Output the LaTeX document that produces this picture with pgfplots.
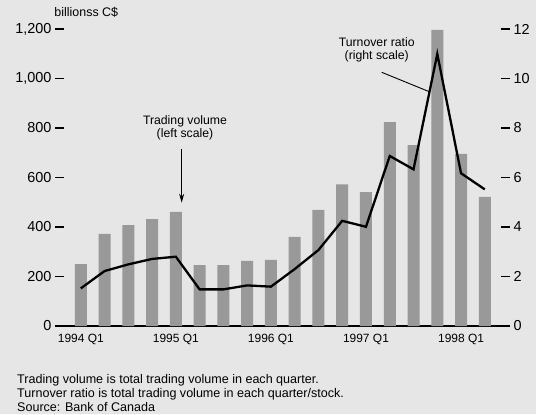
\documentclass[border=0pt]{standalone}
\usepackage{fontspec}
\setmainfont{Liberation Sans}
\usepackage{pgfplots}
\pgfplotsset{compat=1.18}
\usetikzlibrary{arrows.meta}
\definecolor{fondo}{HTML}{E6E6E6}
\definecolor{barra}{HTML}{999999}

\pgfplotsset{
  comun/.style={
    at={(55bp,88bp)}, anchor=south west,
    scale only axis, width=455bp, height=297bp,
    xmin=-1.085, xmax=18.06,
    major tick length=9bp,
    tick align=inside,
    ytick style={line width=1.3bp, black},
    y axis line style={draw=none},
    /pgf/number format/assume math mode=true,
    /pgf/number format/1000 sep={,},
    yticklabel style={font=\fontsize{14.5}{16}\selectfont},
  }
}

\begin{document}
\begin{tikzpicture}[x=1bp,y=1bp]
\fill[fondo] (0,0) rectangle (536,414);

% volumen (barras, escala izquierda)
\begin{axis}[
  comun,
  ymin=0, ymax=1200,
  axis x line*=bottom, axis y line*=left,
  x axis line style={line width=1.6bp, black},
  ytick={0,200,400,600,800,1000,1200},
  xtick={0,4,8,12,16},
  xticklabels={1994 Q1,1995 Q1,1996 Q1,1997 Q1,1998 Q1},
  xtick style={draw=none},
  xticklabel style={font=\fontsize{12}{14}\selectfont, yshift=-4.5bp},
]
\addplot[ybar, bar width=12bp, fill=barra, draw=none] coordinates {
  (0,250) (1,372) (2,408) (3,432) (4,461) (5,246) (6,246) (7,263) (8,267)
  (9,360) (10,469) (11,572) (12,541) (13,824) (14,731) (15,1196) (16,695) (17,522)
};
\draw[line width=1.2bp, -{Stealth[length=9bp, width=5bp]}]
  (axis cs:4.245,715) -- (axis cs:4.245,498);
\end{axis}

% ratio de rotacion (linea, escala derecha)
\begin{axis}[
  comun,
  ymin=0, ymax=12,
  axis x line=none, axis y line*=right,
  ytick={0,2,4,6,8,10,12},
]
\addplot[black, line width=2.3bp, line join=miter, mark=none] coordinates {
  (0,1.52) (1,2.22) (2,2.49) (3,2.71) (4,2.80) (5,1.48) (6,1.48) (7,1.64) (8,1.59)
  (9,2.30) (10,3.07) (11,4.25) (12,4.01) (13,6.87) (14,6.33) (15,10.99) (16,6.17) (17,5.52)
};
\end{axis}

% textos
\node[anchor=base, inner sep=0pt, font=\fontsize{12.5}{14}\selectfont] at (86.3,397.3) {billionss C\$};
\node[anchor=base, inner sep=0pt, font=\fontsize{12.3}{14}\selectfont] at (185,290) {Trading volume};
\node[anchor=base, inner sep=0pt, font=\fontsize{12.3}{14}\selectfont] at (185,276.5) {(left scale)};
\node[anchor=base, inner sep=0pt, font=\fontsize{12.3}{14}\selectfont] at (376.7,368) {Turnover ratio};
\node[anchor=base, inner sep=0pt, font=\fontsize{12.3}{14}\selectfont] at (376.7,354.5) {(right scale)};
\draw[line width=0.9bp] (381.7,341.7) -- (430,322);

\node[anchor=base west, inner sep=0pt, font=\fontsize{12.6}{14}\selectfont] at (17,30.5) {Trading volume is total trading volume in each quarter.};
\node[anchor=base west, inner sep=0pt, font=\fontsize{12.6}{14}\selectfont] at (17,16.5) {Turnover ratio is total trading volume in each quarter/stock.};
\node[anchor=base west, inner sep=0pt, font=\fontsize{12.6}{14}\selectfont] at (17,3) {Source: Bank of Canada};

\pgfresetboundingbox
\path[use as bounding box] (0,0) rectangle (536,414);
\end{tikzpicture}
\end{document}
